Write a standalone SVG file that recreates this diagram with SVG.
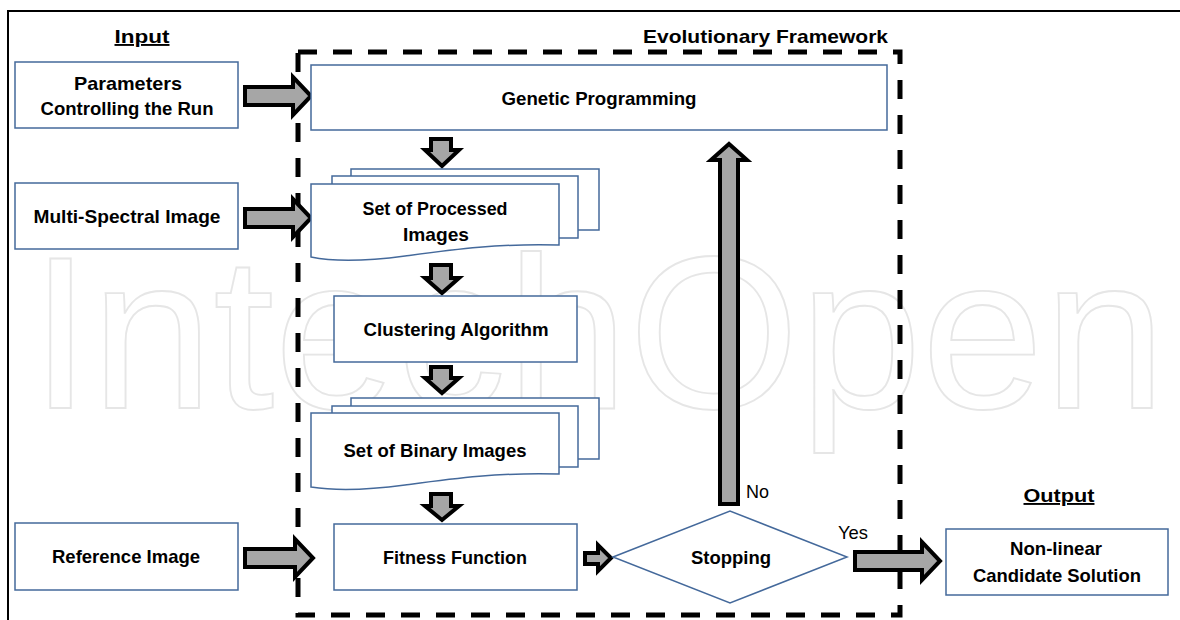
<svg xmlns="http://www.w3.org/2000/svg" width="1180" height="620" viewBox="0 0 1180 620">
<style>
.box{fill:#fff;stroke:#44699b;stroke-width:1.5}
.arrow{fill:#a6a6a6;stroke:#000;stroke-width:4;stroke-linejoin:miter;stroke-miterlimit:10}
.lbl{font-family:"Liberation Sans",Arial,sans-serif;font-weight:bold;font-size:19px;fill:#000;text-anchor:middle}
.reg{font-family:"Liberation Sans",Arial,sans-serif;font-size:19px;fill:#000}
.title{text-decoration:underline}
.wm{font-family:"Liberation Sans",Arial,sans-serif;font-size:218px;fill:#fff;stroke:#e6e6e6;stroke-width:1.8}
</style>
<rect width="1180" height="620" fill="#fff"/>
<text class="wm" x="30" y="408" textLength="1136" lengthAdjust="spacingAndGlyphs">IntechOpen</text>
<path d="M8,620 V11 H1180" fill="none" stroke="#000" stroke-width="2"/>
<g id="frame">
<rect x="298" y="52" width="602" height="563" fill="none" stroke="#000" stroke-width="5" stroke-dasharray="19 16"/>
<text class="lbl" x="888" y="43" style="text-anchor:end" textLength="245" lengthAdjust="spacingAndGlyphs">Evolutionary Framework</text>
</g>
<g id="input-title"><text class="lbl title" x="142" y="43" textLength="55" lengthAdjust="spacingAndGlyphs">Input</text></g>
<g id="output-title"><text class="lbl title" x="1059" y="502" textLength="71" lengthAdjust="spacingAndGlyphs">Output</text></g>

<g id="connectors">
<path class="arrow" d="M245,87 H293 V77 L311,96 L293,115 V105 H245 Z"/>
<path class="arrow" d="M245,209 H293 V199 L311,218 L293,237 V227 H245 Z"/>
<path class="arrow" d="M245,549 H295 V539 L313,558 L295,577 V567 H245 Z"/>
<path class="arrow" d="M431,139 V150 H425 L442,166 L459,150 H451 V139 Z"/>
<path class="arrow" d="M431,265 V278 H425 L442,293 L459,278 H451 V265 Z"/>
<path class="arrow" d="M431,367 V378 H425 L442,393 L459,378 H451 V367 Z"/>
<path class="arrow" d="M431,494 V506 H425 L442,520 L459,506 H451 V494 Z"/>
<path class="arrow" d="M585,553 H598 V545 L611,558 L598,571 V564 H585 Z"/>
<path class="arrow" d="M720,504 V160 H711 L729,144 L747,160 H738 V504 Z"/>
<path class="arrow" d="M855,552 H922 V542 L940,561 L922,580 V570 H855 Z"/>
<text class="reg" x="746" y="498" textLength="23" lengthAdjust="spacingAndGlyphs">No</text>
<text class="reg" x="838" y="539" textLength="30" lengthAdjust="spacingAndGlyphs">Yes</text>
</g>

<g id="parameters">
<rect class="box" x="15" y="62" width="223" height="66"/>
<text class="lbl" x="128" y="90" textLength="108" lengthAdjust="spacingAndGlyphs">Parameters</text>
<text class="lbl" x="127" y="115" textLength="173" lengthAdjust="spacingAndGlyphs">Controlling the Run</text>
</g>
<g id="multispectral">
<rect class="box" x="15" y="183" width="223" height="66"/>
<text class="lbl" x="127" y="223" textLength="187" lengthAdjust="spacingAndGlyphs">Multi-Spectral Image</text>
</g>
<g id="reference">
<rect class="box" x="15" y="523" width="223" height="67"/>
<text class="lbl" x="126" y="563" textLength="148" lengthAdjust="spacingAndGlyphs">Reference Image</text>
</g>
<g id="genetic">
<rect class="box" x="311" y="65" width="576" height="65"/>
<text class="lbl" x="599" y="105" textLength="195" lengthAdjust="spacingAndGlyphs">Genetic Programming</text>
</g>
<g id="processed">
<rect class="box" x="351" y="169" width="248" height="61"/>
<rect class="box" x="332" y="176" width="246" height="62"/>
<path class="box" d="M311,184 H559 V245 C500,243 450,250 405,256 C360,262 330,261 311,257 Z"/>
<text class="lbl" x="435" y="215" textLength="145" lengthAdjust="spacingAndGlyphs">Set of Processed</text>
<text class="lbl" x="436" y="241" textLength="66" lengthAdjust="spacingAndGlyphs">Images</text>
</g>
<g id="clustering">
<rect class="box" x="334" y="296" width="243" height="66"/>
<text class="lbl" x="456" y="336" textLength="185" lengthAdjust="spacingAndGlyphs">Clustering Algorithm</text>
</g>
<g id="binary">
<rect class="box" x="351" y="398" width="248" height="61"/>
<rect class="box" x="332" y="406" width="246" height="61"/>
<path class="box" d="M311,413 H559 V474 C500,472 450,479 405,485 C360,491 330,490 311,487 Z"/>
<text class="lbl" x="435" y="457" textLength="183" lengthAdjust="spacingAndGlyphs">Set of Binary Images</text>
</g>
<g id="fitness">
<rect class="box" x="334" y="524" width="243" height="66"/>
<text class="lbl" x="455" y="564" textLength="144" lengthAdjust="spacingAndGlyphs">Fitness Function</text>
</g>
<g id="stopping">
<path class="box" d="M613,557 L730,511 L847,557 L730,603 Z"/>
<text class="lbl" x="731" y="564" textLength="80" lengthAdjust="spacingAndGlyphs">Stopping</text>
</g>
<g id="solution">
<rect class="box" x="946" y="529" width="222" height="66"/>
<text class="lbl" x="1056" y="555" textLength="92" lengthAdjust="spacingAndGlyphs">Non-linear</text>
<text class="lbl" x="1057" y="582" textLength="168" lengthAdjust="spacingAndGlyphs">Candidate Solution</text>
</g>
</svg>
